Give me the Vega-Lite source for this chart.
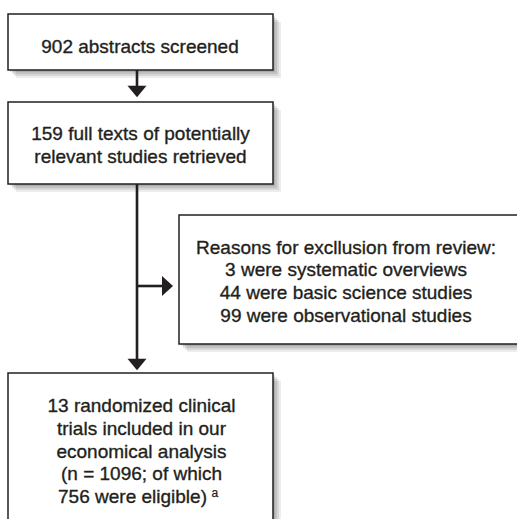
{
  "$schema": "https://vega.github.io/schema/vega-lite/v6.json",
  "width": 517,
  "height": 519,
  "autosize": {"type": "fit", "contains": "padding"},
  "padding": 0,
  "background": "white",
  "config": {"view": {"stroke": null}},
  "datasets": {
    "boxes": [
      {"id": "b1", "x": 8, "x2": 273, "y": 14, "y2": 70},
      {"id": "b2", "x": 8, "x2": 273, "y": 102, "y2": 184},
      {"id": "b3", "x": 179, "x2": 540, "y": 215, "y2": 344},
      {"id": "b4", "x": 8, "x2": 273, "y": 373, "y2": 540}
    ],
    "lines": [
      {"x": 137, "y": 70, "x2": 137, "y2": 88},
      {"x": 137, "y": 184, "x2": 137, "y2": 360},
      {"x": 137, "y": 286, "x2": 164, "y2": 286}
    ],
    "heads": [
      {"dir": "down", "x": 137, "y": 91.5},
      {"dir": "down", "x": 137, "y": 364.5},
      {"dir": "right", "x": 167.5, "y": 286}
    ],
    "labels": [
      {"x": 140, "y": 53, "label": "902 abstracts screened"},
      {"x": 140.5, "y": 140, "label": "159 full texts of potentially\nrelevant studies retrieved"},
      {"x": 346, "y": 253.5, "label": "Reasons for excllusion from review:\n3 were systematic overviews\n44 were basic science studies\n99 were observational studies"},
      {"x": 141.5, "y": 412, "label": "13 randomized clinical\ntrials included in our\neconomical analysis\n(n = 1096; of which"},
      {"x": 132.5, "y": 503, "label": "756 were eligible)"}
    ],
    "sups": [
      {"x": 211.5, "y": 496.5, "label": "a"}
    ]
  },
  "encoding": {
    "x": {"field": "x", "type": "quantitative", "scale": {"domain": [0, 517], "nice": false, "zero": false}, "axis": null},
    "y": {"field": "y", "type": "quantitative", "scale": {"domain": [0, 519], "nice": false, "zero": false, "reverse": true}, "axis": null}
  },
  "layer": [
    {
      "data": {"name": "boxes"},
      "mark": {"type": "rect", "fill": "#000", "opacity": 0.1, "xOffset": 2, "x2Offset": 2, "yOffset": 2, "y2Offset": 2, "clip": true},
      "encoding": {"x2": {"field": "x2"}, "y2": {"field": "y2"}}
    },
    {
      "data": {"name": "boxes"},
      "mark": {"type": "rect", "fill": "#000", "opacity": 0.1, "xOffset": 4, "x2Offset": 4, "yOffset": 4, "y2Offset": 4, "clip": true},
      "encoding": {"x2": {"field": "x2"}, "y2": {"field": "y2"}}
    },
    {
      "data": {"name": "boxes"},
      "mark": {"type": "rect", "fill": "#000", "opacity": 0.09, "xOffset": 6, "x2Offset": 6, "yOffset": 6, "y2Offset": 6, "clip": true},
      "encoding": {"x2": {"field": "x2"}, "y2": {"field": "y2"}}
    },
    {
      "data": {"name": "boxes"},
      "mark": {"type": "rect", "fill": "#000", "opacity": 0.07, "xOffset": 8, "x2Offset": 8, "yOffset": 8, "y2Offset": 8, "clip": true},
      "encoding": {"x2": {"field": "x2"}, "y2": {"field": "y2"}}
    },
    {
      "data": {"name": "boxes"},
      "mark": {"type": "rect", "fill": "white", "stroke": "#231f20", "strokeWidth": 1.5, "clip": true},
      "encoding": {"x2": {"field": "x2"}, "y2": {"field": "y2"}}
    },
    {
      "data": {"name": "lines"},
      "mark": {"type": "rule", "color": "#231f20", "strokeWidth": 2.6},
      "encoding": {"x2": {"field": "x2"}, "y2": {"field": "y2"}}
    },
    {
      "data": {"name": "heads"},
      "transform": [{"filter": "datum.dir === 'down'"}],
      "mark": {"type": "point", "shape": "M-1,-0.6L1,-0.6L0,0.6Z", "size": 361, "filled": true, "fill": "#231f20", "strokeWidth": 0, "opacity": 1}
    },
    {
      "data": {"name": "heads"},
      "transform": [{"filter": "datum.dir === 'right'"}],
      "mark": {"type": "point", "shape": "M-0.55,-1L0.55,0L-0.55,1Z", "size": 400, "filled": true, "fill": "#231f20", "strokeWidth": 0, "opacity": 1}
    },
    {
      "data": {"name": "labels"},
      "mark": {"type": "text", "font": "Liberation Sans", "fontSize": 19, "lineHeight": 22.8, "lineBreak": "\n", "align": "center", "baseline": "alphabetic", "color": "#231f20", "stroke": "#231f20", "strokeWidth": 0.35},
      "encoding": {"text": {"field": "label"}}
    },
    {
      "data": {"name": "sups"},
      "mark": {"type": "text", "font": "Liberation Sans", "fontSize": 12, "align": "left", "baseline": "alphabetic", "color": "#231f20", "stroke": "#231f20", "strokeWidth": 0.25},
      "encoding": {"text": {"field": "label"}}
    }
  ]
}
